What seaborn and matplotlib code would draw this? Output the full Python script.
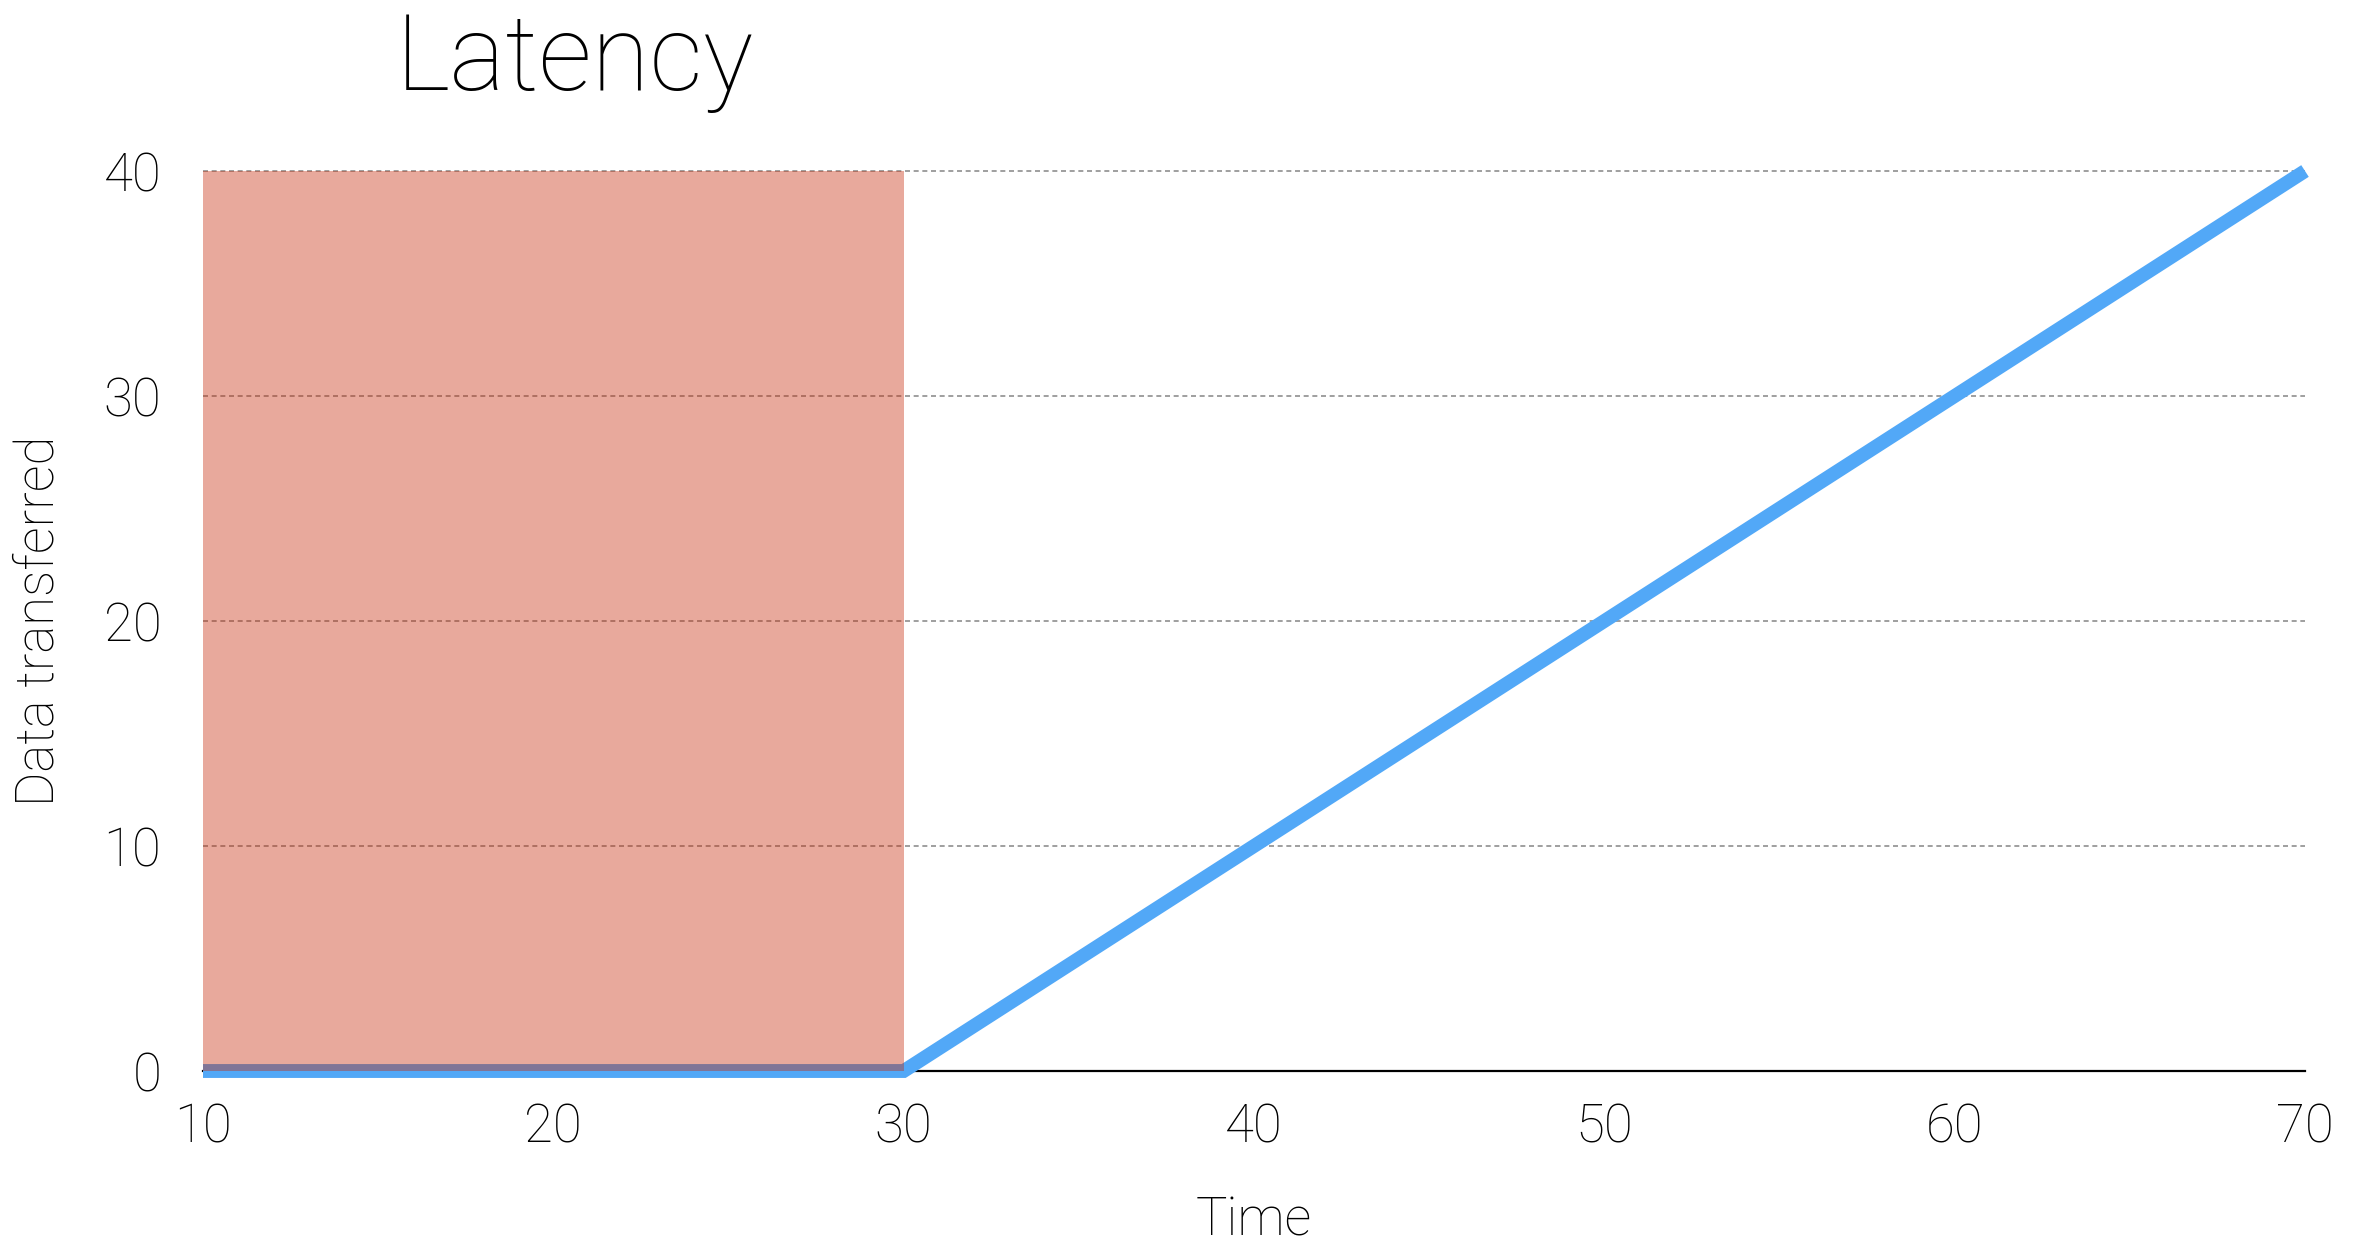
import numpy as np
import pandas as pd
import matplotlib
matplotlib.use("Agg")
import matplotlib.pyplot as plt
import seaborn as sns

# Data
time = [10, 30, 70]
transferred = [0, 0, 40]
latency_span = [10, 30]
latency_top = 40
x_ticks = [10, 20, 30, 40, 50, 60, 70]
y_ticks = [0, 10, 20, 30, 40]

sns.set_theme(style="white")
plt.rcParams["font.family"] = ["Roboto", "DejaVu Sans"]
plt.rcParams["text.color"] = "black"
plt.rcParams["axes.labelcolor"] = "black"
plt.rcParams["xtick.color"] = "black"
plt.rcParams["ytick.color"] = "black"
weight = "light"

fig = plt.figure(figsize=(23.56, 12.48), dpi=100)
ax = fig.add_axes([203 / 2356, 177 / 1248, (2305 - 203) / 2356, (1071 - 171) / 1248])

df = pd.DataFrame({"Time": time, "Data transferred": transferred})

# horizontal grid
for yv in y_ticks[1:]:
    ax.axhline(yv, color="#8f8f8f", lw=1.2, ls=(0, (3, 2.2)), zorder=1, clip_on=False)

sns.lineplot(data=df, x="Time", y="Data transferred", ax=ax, color="#52a8f7",
             lw=10, zorder=3)
line = ax.lines[-1]
line.set_solid_capstyle("butt")
line.set_solid_joinstyle("miter")
line.set_clip_on(False)

# latency window
ax.fill_between(latency_span, 0, latency_top, color="#c62a08", alpha=0.4,
                lw=0, zorder=4)

ax.set_xlim(10, 70)
ax.set_ylim(0, 40)
ax.set_xticks(x_ticks)
ax.set_yticks(y_ticks)
ax.tick_params(axis="both", length=0, labelsize=38, colors="black")
ax.tick_params(axis="x", pad=22)
ax.tick_params(axis="y", pad=30)
for lbl in ax.get_xticklabels() + ax.get_yticklabels():
    lbl.set_fontweight(weight)

for side in ["top", "right", "left"]:
    ax.spines[side].set_visible(False)
ax.spines["bottom"].set_color("black")
ax.spines["bottom"].set_linewidth(1.6)
ax.spines["bottom"].set_zorder(2)
ax.patch.set_alpha(0)

ax.set_xlabel("Time", fontsize=38, fontweight=weight, labelpad=30)
ax.set_ylabel("Data transferred", fontsize=38, fontweight=weight, labelpad=28)

fig.text(575 / 2356, 1 - 90 / 1248, "Latency", fontsize=76, fontweight=weight,
         ha="center", va="baseline")

fig.savefig("out.png", dpi=100, facecolor="white")
